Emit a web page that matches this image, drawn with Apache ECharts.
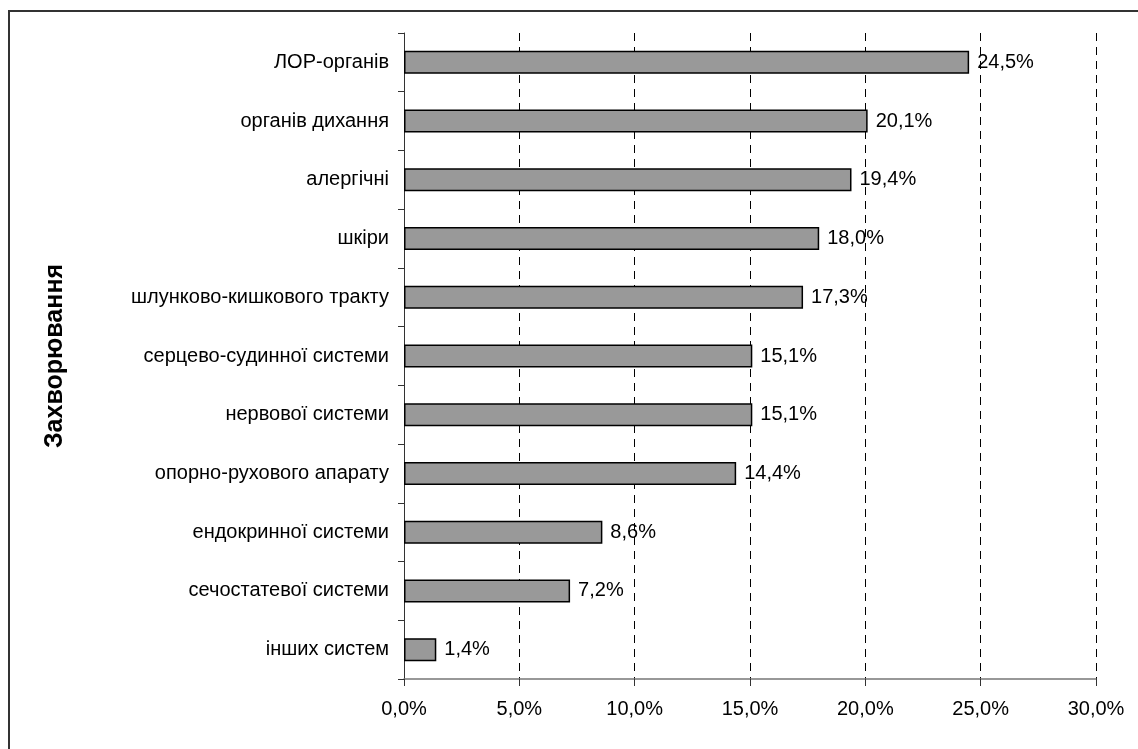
<!DOCTYPE html>
<html><head><meta charset="utf-8">
<script src="https://cdn.jsdelivr.net/npm/echarts@6/dist/echarts.min.js"></script>
<style>html,body{margin:0;padding:0;background:#fff}#c{width:1138px;height:749px}</style>
</head><body><div id="c"></div>
<script>
const categories = ['ЛОР-органів','органів дихання','алергічні','шкіри','шлунково-кишкового тракту','серцево-судинної системи','нервової системи','опорно-рухового апарату','ендокринної системи','сечостатевої системи','інших систем'];
const values = [24.5, 20.1, 19.4, 18.0, 17.3, 15.1, 15.1, 14.4, 8.6, 7.2, 1.4];
const axisTitle = 'Захворювання';
const fmt = v => v.toFixed(1).replace('.', ',') + '%';
const chart = echarts.init(document.getElementById('c'), null, {renderer:'canvas'});
const font = '"Liberation Sans", Arial, sans-serif';
chart.setOption({
  animation:false,
  graphic:[{type:'rect', shape:{x:9,y:11,width:1200,height:800}, style:{fill:'none', stroke:'#333', lineWidth:2}}],
  grid:{left:404, right:42, top:33, bottom:70},
  xAxis:{type:'value', min:0, max:30, interval:5,
    axisLine:{show:true, lineStyle:{color:'#777', width:1.5}},
    axisTick:{show:true, length:7, lineStyle:{color:'#333'}},
    splitLine:{show:true, lineStyle:{color:'#000', type:[8,6], width:1}},
    axisLabel:{formatter:v=>fmt(v), color:'#000', fontSize:20, fontFamily:font, margin:20}},
  yAxis:{type:'category', data:categories, inverse:true,
    name:axisTitle, nameLocation:'middle', nameGap:336, nameRotate:90,
    nameTextStyle:{fontSize:25, fontWeight:'bold', color:'#000', fontFamily:font},
    axisLine:{show:true, lineStyle:{color:'#333', width:1}},
    axisTick:{show:true, length:6, alignWithLabel:false, lineStyle:{color:'#333'}},
    axisLabel:{color:'#000', fontSize:20, fontFamily:font, margin:15},
    splitLine:{show:false}},
  series:[{type:'bar', data:values, barWidth:23,
    itemStyle:{color:'#999999', borderColor:'#000', borderWidth:1.5},
    label:{show:true, position:'right', distance:8, formatter:p=>fmt(p.value), color:'#000', fontSize:20, fontFamily:font}}]
});
</script></body></html>
